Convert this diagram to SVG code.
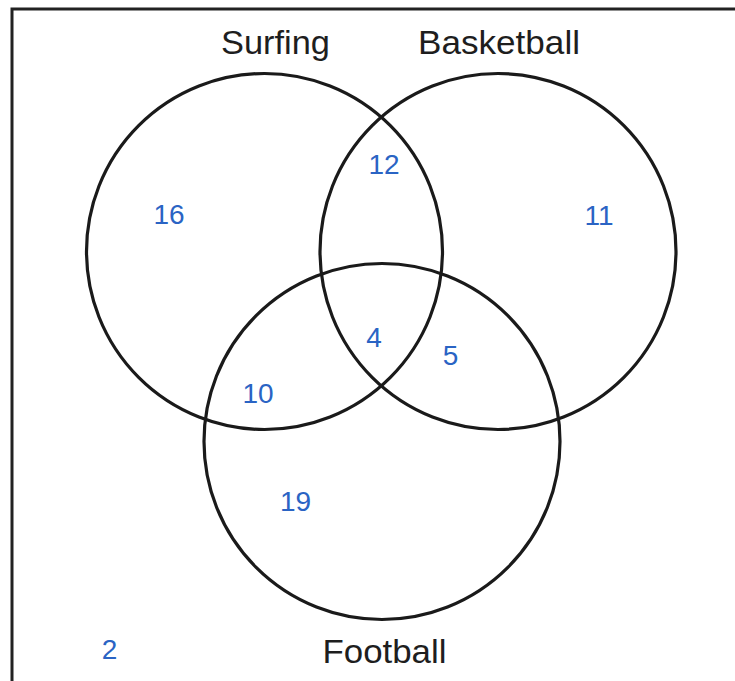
<svg xmlns="http://www.w3.org/2000/svg" width="735" height="681" viewBox="0 0 735 681">
<style>
.set{fill:none;stroke:#1a1a1a;stroke-width:3.2}
.lbl{font-family:"Liberation Sans",Arial,sans-serif;font-size:33px;fill:#1e1e1e;text-anchor:middle}
.num{font-family:"Liberation Sans",Arial,sans-serif;font-size:28px;fill:#2a64c4;text-anchor:middle}
</style>
<rect x="0" y="0" width="735" height="681" fill="#ffffff"/>
<rect id="frame" x="12" y="9" width="760" height="700" fill="none" stroke="#222" stroke-width="3"/>
<g id="surfing">
<circle class="set" cx="264.5" cy="251.5" r="178"/>
<text class="lbl" x="275.5" y="54" textLength="109" lengthAdjust="spacingAndGlyphs">Surfing</text>
</g>
<g id="basketball">
<circle class="set" cx="498" cy="251.5" r="178"/>
<text class="lbl" x="499" y="54" textLength="162" lengthAdjust="spacingAndGlyphs">Basketball</text>
</g>
<g id="football">
<circle class="set" cx="382" cy="441.5" r="178"/>
<text class="lbl" x="384.5" y="663" textLength="124" lengthAdjust="spacingAndGlyphs">Football</text>
</g>
<g id="counts">
<text class="num" x="169" y="224">16</text>
<text class="num" x="384" y="174">12</text>
<text class="num" x="599" y="225">11</text>
<text class="num" x="258" y="403">10</text>
<text class="num" x="374" y="347">4</text>
<text class="num" x="450.5" y="365">5</text>
<text class="num" x="295.5" y="511">19</text>
<text class="num" x="109.5" y="659">2</text>
</g>
<g id="connectors"></g>
</svg>
